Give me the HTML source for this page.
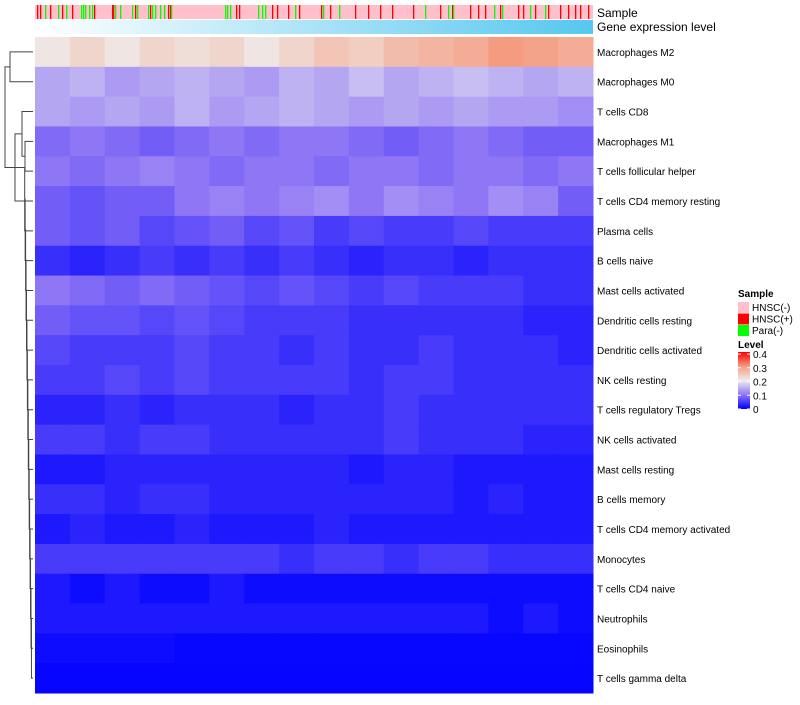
<!DOCTYPE html>
<html><head><meta charset="utf-8">
<style>
body{margin:0;background:#fff;font-family:"Liberation Sans",sans-serif;}
svg text{font-family:"Liberation Sans",sans-serif;}
</style></head>
<body>
<svg id="c" width="800" height="700" xmlns="http://www.w3.org/2000/svg"></svg>
<script>
const rowNames=["Macrophages M2","Macrophages M0","T cells CD8","Macrophages M1","T cells follicular helper","T cells CD4 memory resting","Plasma cells","B cells naive","Mast cells activated","Dendritic cells resting","Dendritic cells activated","NK cells resting","T cells regulatory  Tregs","NK cells activated","Mast cells resting","B cells memory","T cells CD4 memory activated","Monocytes","T cells CD4 naive","Neutrophils","Eosinophils","T cells gamma delta"];
const rowM2=[0.21,0.23,0.21,0.23,0.22,0.23,0.21,0.23,0.25,0.24,0.26,0.27,0.28,0.3,0.29,0.28];
const rowM0=[0.14,0.15,0.13,0.14,0.15,0.14,0.13,0.15,0.14,0.16,0.14,0.15,0.16,0.15,0.14,0.15];
const rowCD8=[0.14,0.13,0.14,0.13,0.15,0.13,0.14,0.15,0.14,0.13,0.14,0.13,0.14,0.13,0.13,0.12];
const rowM1=[0.09,0.1,0.09,0.08,0.09,0.1,0.09,0.1,0.1,0.09,0.08,0.09,0.1,0.09,0.08,0.08];
const rowTfh=[0.1,0.09,0.1,0.11,0.1,0.09,0.1,0.1,0.09,0.1,0.1,0.09,0.1,0.1,0.09,0.1];
const rowCD4mr=[0.08,0.07,0.08,0.08,0.1,0.11,0.1,0.11,0.12,0.1,0.12,0.11,0.1,0.12,0.11,0.08];
const rowPlasma=[0.08,0.07,0.08,0.06,0.07,0.08,0.06,0.07,0.05,0.06,0.05,0.05,0.06,0.05,0.05,0.05];
const rowBnaive=[0.04,0.03,0.04,0.05,0.04,0.05,0.04,0.05,0.04,0.03,0.04,0.04,0.03,0.04,0.04,0.04];
const rowMastAct=[0.1,0.09,0.08,0.09,0.08,0.07,0.06,0.07,0.06,0.05,0.06,0.05,0.05,0.05,0.04,0.04];
const rowDCrest=[0.08,0.07,0.07,0.06,0.07,0.06,0.05,0.05,0.05,0.04,0.04,0.04,0.04,0.04,0.03,0.03];
const rowDCact=[0.06,0.05,0.05,0.05,0.06,0.05,0.05,0.04,0.05,0.04,0.04,0.05,0.04,0.04,0.04,0.03];
const rowNKrest=[0.05,0.05,0.06,0.05,0.06,0.05,0.05,0.05,0.05,0.04,0.05,0.05,0.04,0.04,0.04,0.04];
const rowTregs=[0.03,0.03,0.04,0.03,0.04,0.04,0.04,0.03,0.04,0.04,0.05,0.04,0.04,0.04,0.04,0.04];
const rowNKact=[0.05,0.05,0.04,0.05,0.05,0.04,0.04,0.04,0.04,0.04,0.05,0.04,0.04,0.04,0.03,0.03];
const rowMastRest=[0.02,0.02,0.03,0.03,0.03,0.03,0.03,0.03,0.03,0.02,0.03,0.03,0.02,0.02,0.02,0.02];
const rowBmem=[0.04,0.04,0.03,0.04,0.04,0.03,0.03,0.03,0.03,0.03,0.03,0.03,0.02,0.03,0.02,0.02];
const rowCD4act=[0.02,0.03,0.02,0.02,0.03,0.02,0.02,0.02,0.03,0.02,0.02,0.02,0.02,0.02,0.02,0.02];
const rowMono=[0.05,0.05,0.05,0.05,0.05,0.05,0.05,0.04,0.05,0.05,0.04,0.05,0.05,0.04,0.04,0.04];
const rowCD4naive=[0.02,0.01,0.02,0.01,0.01,0.02,0.01,0.01,0.01,0.01,0.01,0.01,0.01,0.01,0.01,0.01];
const rowNeut=[0.02,0.02,0.02,0.02,0.02,0.02,0.02,0.02,0.02,0.02,0.02,0.02,0.02,0.01,0.02,0.01];
const rowEos=[0.01,0.01,0.01,0.01,0.005,0.005,0.005,0.005,0.005,0.005,0.005,0.005,0.005,0.005,0.005,0.005];
const rowGD=[0.003,0.003,0.003,0.003,0.003,0.003,0.003,0.003,0.003,0.003,0.003,0.003,0.003,0.003,0.003,0.003];
const sampleCount=558;
const redSamples=[2,5,15,27,37,59,77,78,100,115,133,135,201,204,237,242,253,264,286,295,320,333,345,357,378,405,417,435,443,450,465,483,488,500,513,525,533,540,545,553];
const greenSamples=[10,23,31,46,48,50,54,57,80,85,97,102,113,117,120,125,129,136,190,192,195,223,227,230,260,288,304,390,413,418,459,467,495,510];
const levelTicks=[0,0.1,0.2,0.3,0.4];

const rows=[rowM2,rowM0,rowCD8,rowM1,rowTfh,rowCD4mr,rowPlasma,rowBnaive,rowMastAct,rowDCrest,rowDCact,rowNKrest,rowTregs,rowNKact,rowMastRest,rowBmem,rowCD4act,rowMono,rowCD4naive,rowNeut,rowEos,rowGD];
const NS="http://www.w3.org/2000/svg";
const svg=document.getElementById('c');
const X0=35,X1=593,Y0=37,Y1=693;
const rh=(Y1-Y0)/rows.length;
function el(t,a,p){const e=document.createElementNS(NS,t);for(const k in a)e.setAttribute(k,a[k]);(p||svg).appendChild(e);return e;}
const stops=[[0,[0,0,255]],[0.1,[143,118,245]],[0.2,[238,238,238]],[0.3,[245,155,128]],[0.4,[255,0,0]]];
function color(v){v=Math.max(0,Math.min(0.4,v));for(let i=0;i<stops.length-1;i++){const[a,ca]=stops[i],[b,cb]=stops[i+1];if(v<=b){const t=(v-a)/(b-a);return 'rgb('+ca.map((c,j)=>Math.round(c+(cb[j]-c)*t)).join(',')+')';}}return 'rgb(255,0,0)';}
function sx(i){return X0+(X1-X0)*i/sampleCount;}

const sb=el('rect',{x:X0,y:5,width:X1-X0,height:14,fill:'#ffc0cb'});


redSamples.forEach(s=>{const r=el('rect',{x:sx(s),y:5,width:1.3,height:14,fill:'#ff0000'});

});
greenSamples.forEach(s=>{const r=el('rect',{x:sx(s),y:5,width:1.3,height:14,fill:'#00ff00'});

});
const defs=el('defs',{});
const lg=el('linearGradient',{id:'ge',x1:0,x2:1,y1:0,y2:0},defs);
el('stop',{offset:0,'stop-color':'#ffffff'},lg);el('stop',{offset:1,'stop-color':'#56c7f0'},lg);
const lg2=el('linearGradient',{id:'lv',x1:0,x2:0,y1:1,y2:0},defs);
stops.forEach(s=>el('stop',{offset:s[0]/0.4,'stop-color':color(s[0])},lg2));
const gb=el('rect',{x:X0,y:20,width:X1-X0,height:14,fill:'url(#ge)'});


const t1=el('text',{x:597,y:17,'font-size':12,fill:'#000'});t1.textContent='Sample';


const t2=el('text',{x:597,y:31,'font-size':12,fill:'#000'});t2.textContent='Gene expression level';



rows.forEach((vals,r)=>{const w=(X1-X0)/vals.length;
vals.forEach((v,c)=>{const cell=el('rect',{x:X0+c*w,y:Y0+r*rh,width:w+0.5,height:rh+0.5,fill:color(v)});

});
const lb=el('text',{x:597,y:Y0+(r+0.5)*rh+4,'font-size':10,fill:'#000'});lb.textContent=rowNames[r];

});

function yc(i){return Y0+(i+0.5)*rh;}
const dg=el('g',{stroke:'#444','stroke-width':1,fill:'none'});


function link(xa,ya,xb,yb,xj){el('path',{d:`M${xa},${ya}H${xj}V${yb}H${xb}`},dg);}
link(33,yc(0),33,yc(1),10);
link(33,yc(3),33,yc(4),25);
link(33,yc(2),25,(yc(3)+yc(4))/2,22);
let cy=(yc(2)+(yc(3)+yc(4))/2)/2;
link(22,cy,33,yc(5),15);
cy=(cy+yc(5))/2;
let px=15,py=cy;
for(let i=6;i<rows.length;i++){const j=Math.min(32,22+i*0.45);const ny=(py+yc(i))/2;link(px,py,33,yc(i),j);px=j;py=ny;}
link(10,(yc(0)+yc(1))/2,15,cy,5);

const lgG=el('g',{});


const lt=el('text',{x:738,y:297,'font-size':10,'font-weight':'bold'},lgG);lt.textContent='Sample';
[['HNSC(-)','#ffc0cb'],['HNSC(+)','#ff0000'],['Para(-)','#00ff00']].forEach((d,i)=>{
const r=el('rect',{x:738,y:302+i*11.5,width:11,height:11,fill:d[1]},lgG);


const t=el('text',{x:752,y:311+i*11.5,'font-size':10},lgG);t.textContent=d[0];

});
const lv=el('text',{x:738,y:348,'font-size':10,'font-weight':'bold'},lgG);lv.textContent='Level';
const cb=el('rect',{x:738,y:352,width:12,height:57,fill:'url(#lv)'},lgG);


levelTicks.forEach(v=>{const y=409-v/0.4*55;
el('line',{x1:738,x2:741,y1:y,y2:y,stroke:'#fff'},lgG);el('line',{x1:747,x2:750,y1:y,y2:y,stroke:'#fff'},lgG);
const t=el('text',{x:753,y:y+4,'font-size':10},lgG);t.textContent=String(v);

});
</script>
</body></html>
